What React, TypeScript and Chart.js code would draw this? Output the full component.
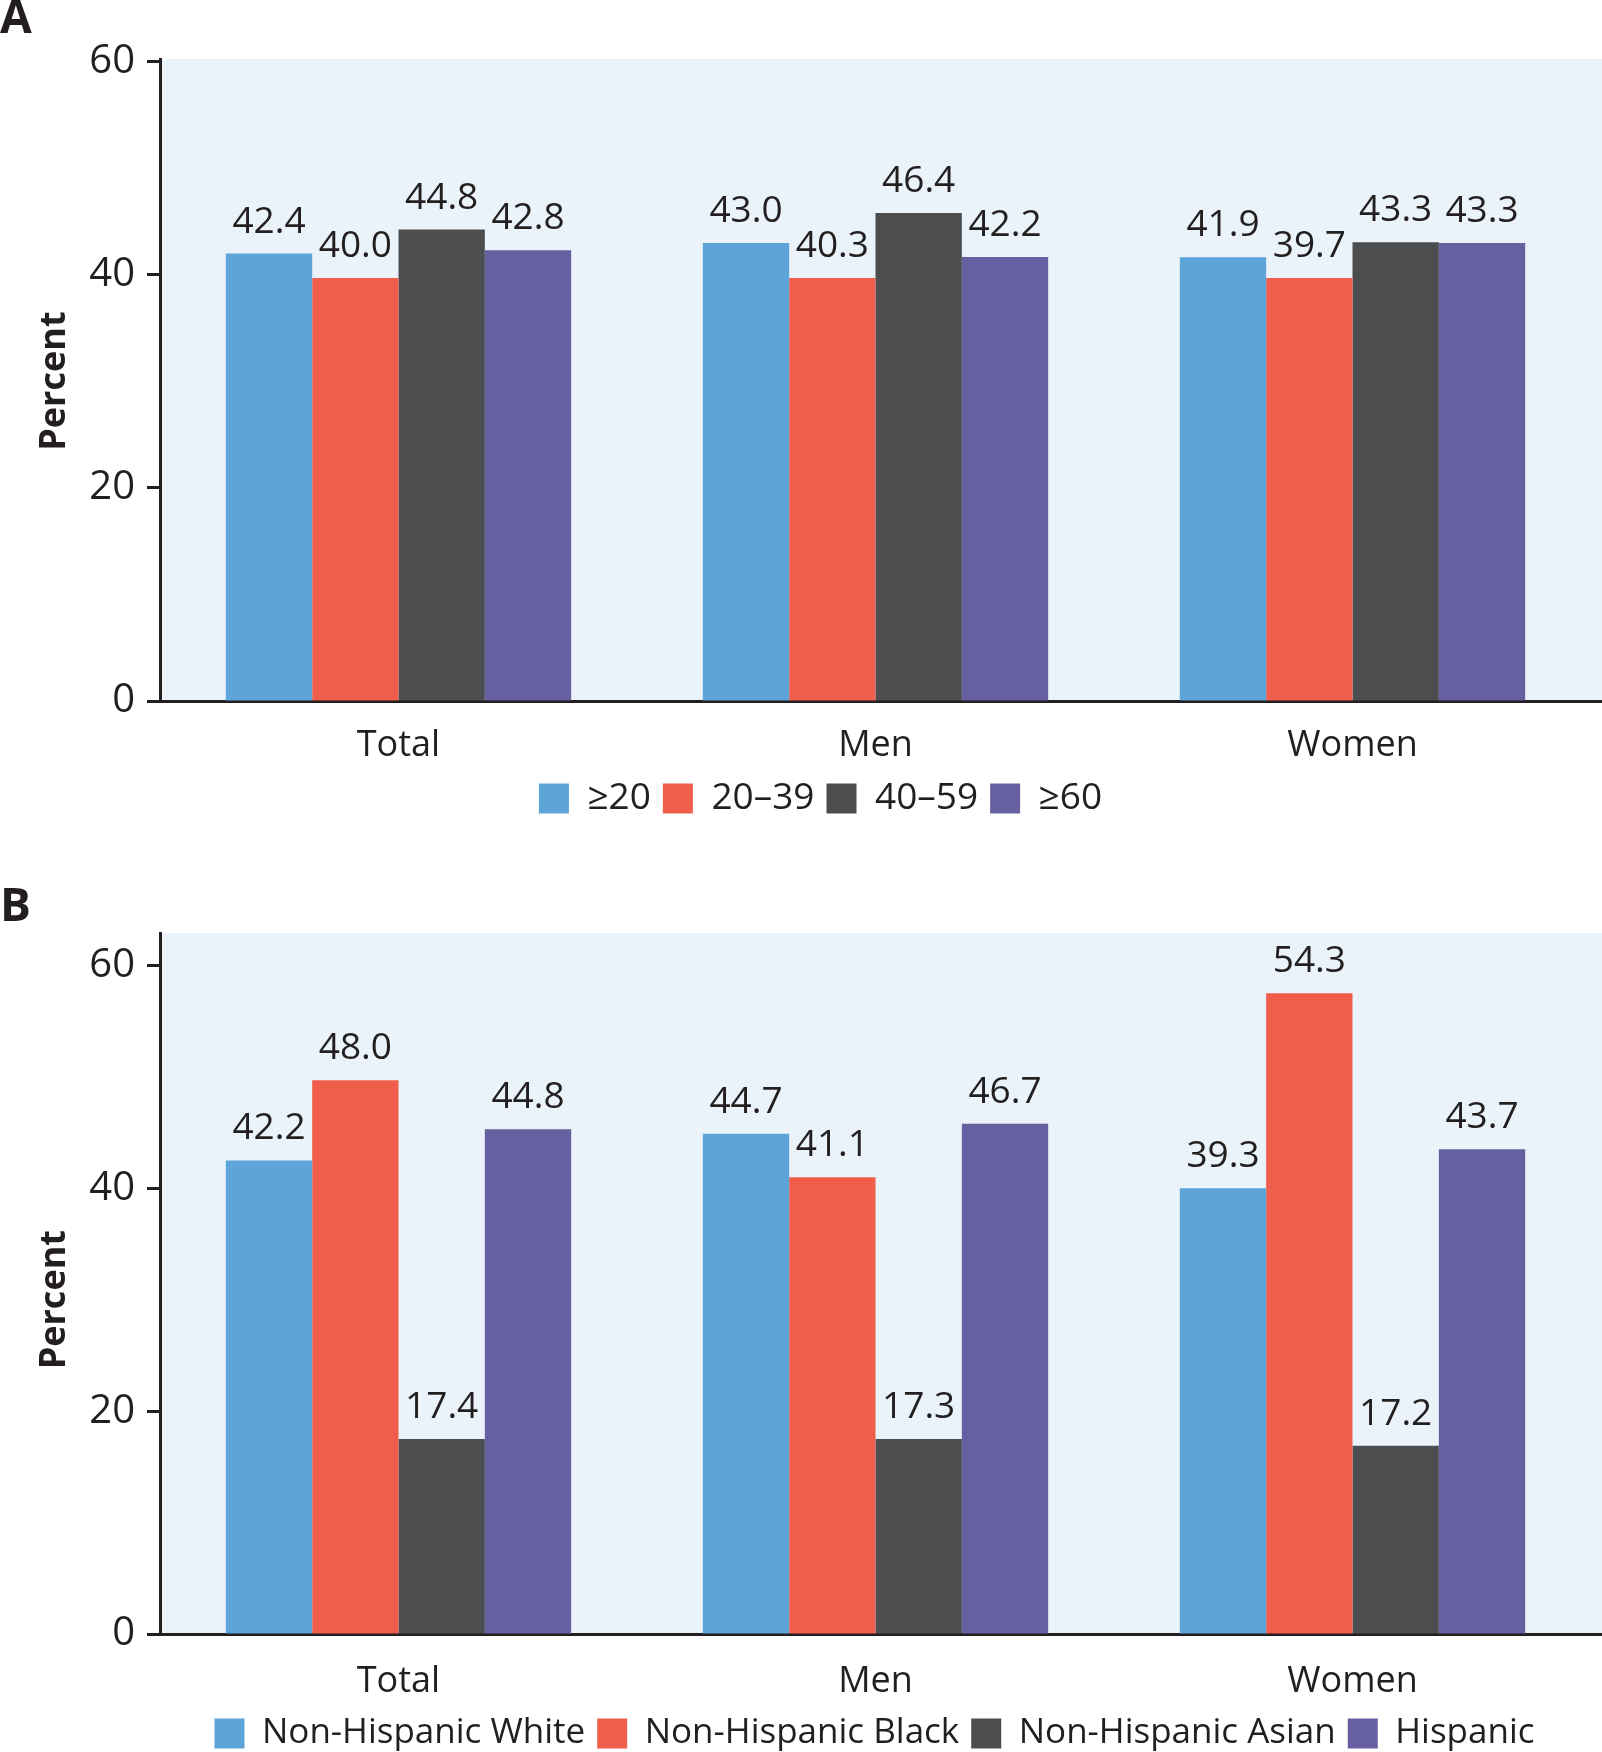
import React, { useEffect, useRef } from 'react';
import { Chart, registerables } from 'chart.js';

Chart.register(...registerables);

// ---------- data ----------
const CATEGORIES = ['Total', 'Men', 'Women'];
const Y_TICKS = [0, 20, 40, 60];
const Y_TITLE = 'Percent';

// Panel A: age groups (bar heights as drawn, labels as printed)
const AGE_GROUPS = ['≥20', '20\u201339', '40\u201359', '≥60'];
const AGE_GE20 = [41.96, 42.96, 41.61];
const AGE_20_39 = [39.67, 39.67, 39.67];
const AGE_40_59 = [44.21, 45.77, 43.02];
const AGE_GE60 = [42.27, 41.64, 42.96];
const AGE_GE20_LABELS = ['42.4', '43.0', '41.9'];
const AGE_20_39_LABELS = ['40.0', '40.3', '39.7'];
const AGE_40_59_LABELS = ['44.8', '46.4', '43.3'];
const AGE_GE60_LABELS = ['42.8', '42.2', '43.3'];

// Panel B: race / ethnicity
const RACE_GROUPS = ['Non-Hispanic White', 'Non-Hispanic Black', 'Non-Hispanic Asian', 'Hispanic'];
const NH_WHITE = [42.5, 44.9, 40.0];
const NH_BLACK = [49.7, 41.0, 57.5];
const NH_ASIAN = [17.5, 17.5, 16.9];
const HISPANIC = [45.3, 45.8, 43.5];
const NH_WHITE_LABELS = ['42.2', '44.7', '39.3'];
const NH_BLACK_LABELS = ['48.0', '41.1', '54.3'];
const NH_ASIAN_LABELS = ['17.4', '17.3', '17.2'];
const HISPANIC_LABELS = ['44.8', '46.7', '43.7'];

// ---------- styles ----------
const COLORS = ['#5DA4D9', '#EF5E4A', '#4C4D4F', '#6660A1'];
const TEXT = '#231F20';
const PLOT_BG = '#EAF2FA';
const FONT = "'Open Sans', 'DejaVu Sans', sans-serif";

Chart.defaults.font.family = FONT;
Chart.defaults.color = TEXT;

const plotFrame = {
  id: 'plotFrame',
  beforeDraw(chart: any) {
    const { ctx, chartArea } = chart;
    ctx.save();
    ctx.fillStyle = PLOT_BG;
    ctx.fillRect(chartArea.left, chartArea.top, chart.width - chartArea.left, chartArea.bottom - chartArea.top);
    ctx.restore();
  },
  afterDraw(chart: any) {
    const { ctx, chartArea } = chart;
    const xs = chart.scales.x;
    const w = 3;
    const y = Math.round(xs.top - w / 2) + w / 2;
    ctx.save();
    ctx.strokeStyle = TEXT;
    ctx.lineWidth = w;
    ctx.beginPath();
    ctx.moveTo(chartArea.right - 2, y);
    ctx.lineTo(chart.width, y);
    ctx.stroke();
    ctx.restore();
  },
};

const valueLabels = {
  id: 'valueLabels',
  afterDatasetsDraw(chart: any, _args: any, opts: any) {
    const { ctx } = chart;
    ctx.save();
    ctx.font = `${opts.size}px ${FONT}`;
    ctx.fillStyle = TEXT;
    ctx.textAlign = 'center';
    ctx.textBaseline = 'alphabetic';
    chart.data.datasets.forEach((ds: any, i: number) => {
      const meta = chart.getDatasetMeta(i);
      meta.data.forEach((bar: any, j: number) => {
        ctx.fillText(ds.valueLabels[j], bar.x, bar.y - opts.gap);
      });
    });
    ctx.restore();
  },
};

const yTitle = {
  id: 'yTitle',
  afterDraw(chart: any, _args: any, opts: any) {
    const { ctx } = chart;
    const ys = chart.scales.y;
    const cy = (ys.getPixelForValue(opts.from) + ys.getPixelForValue(opts.to)) / 2;
    ctx.save();
    ctx.translate(ys.left + opts.x, cy);
    ctx.rotate(-Math.PI / 2);
    ctx.font = `bold ${opts.size}px ${FONT}`;
    ctx.fillStyle = TEXT;
    ctx.textAlign = 'center';
    ctx.textBaseline = 'middle';
    ctx.fillText(opts.text, 0, 0);
    ctx.restore();
  },
};

const legendShift = {
  id: 'legendShift',
  afterLayout(chart: any, _args: any, opts: any) {
    const l = chart.legend;
    if (l && opts.dx) {
      l.left += opts.dx;
      l.right += opts.dx;
    }
  },
};

type PanelProps = {
  letter: string;
  top: number;
  height: number;
  groups: string[];
  series: number[][];
  labels: string[][];
  yMax: number;
  titlePadBottom: number;
  tickPad: number;
  xAxisHeight: number;
  legendSize: number;
  legendDx: number;
};

function Panel(p: PanelProps) {
  const ref = useRef<HTMLCanvasElement | null>(null);
  useEffect(() => {
    if (!ref.current) return;
    const chart = new Chart(ref.current, {
      type: 'bar',
      data: {
        labels: CATEGORIES,
        datasets: p.groups.map((g, i) => ({
          label: g,
          data: p.series[i],
          valueLabels: p.labels[i],
          backgroundColor: COLORS[i],
          borderWidth: 0,
          barPercentage: 1,
          categoryPercentage: 0.724,
        })) as any,
      },
      options: {
        responsive: false,
        animation: false,
        devicePixelRatio: 1,
        events: [],
        layout: { padding: { left: 0, right: 11, top: 0, bottom: 0 } },
        scales: {
          x: {
            grid: { display: false, drawTicks: false },
            border: { display: true, color: TEXT, width: 3 },
            ticks: { font: { size: 36 }, color: TEXT, padding: p.tickPad, maxRotation: 0, autoSkip: false },
            afterFit: (s: any) => { s.height = p.xAxisHeight; },
          },
          y: {
            min: 0,
            max: p.yMax,
            afterBuildTicks: (s: any) => { s.ticks = Y_TICKS.map((v) => ({ value: v })); },
            grid: {
              display: true,
              drawOnChartArea: false,
              drawTicks: true,
              tickLength: 13,
              tickWidth: 3,
              tickColor: TEXT,
            },
            border: { display: true, color: TEXT, width: 3 },
            ticks: { font: { size: 40 }, color: TEXT, padding: 12 },
            title: { display: false },
            afterFit: (s: any) => { s.width = 160; },
          },
        },
        plugins: {
          tooltip: { enabled: false },
          title: {
            display: true,
            text: p.letter,
            align: 'start',
            color: TEXT,
            font: { size: 46, weight: 'bold', lineHeight: 0.85 },
            padding: { top: 0, bottom: p.titlePadBottom },
          },
          legend: {
            display: true,
            position: 'bottom',
            labels: {
              font: { size: p.legendSize },
              color: TEXT,
              boxWidth: 30,
              boxHeight: 30,
              padding: 12,
            },
          },
          valueLabels: { size: 37, gap: 21 },
          yTitle: { text: Y_TITLE, x: 55, size: 36, from: 0, to: 60 },
          legendShift: { dx: p.legendDx },
        } as any,
      },
      plugins: [plotFrame, valueLabels, yTitle, legendShift],
    });
    return () => chart.destroy();
  }, []);
  return (
    <canvas
      ref={ref}
      width={1602}
      height={p.height}
      style={{ position: 'absolute', left: 0, top: p.top, width: 1602, height: p.height, display: 'block' }}
    />
  );
}

export default function App() {
  return (
    <div style={{ position: 'absolute', left: 0, top: 0, width: 1602, height: 1752, overflow: 'hidden', background: '#fff' }}>
      <Panel
        letter="A"
        top={0}
        height={827}
        groups={AGE_GROUPS}
        series={[AGE_GE20, AGE_20_39, AGE_40_59, AGE_GE60]}
        labels={[AGE_GE20_LABELS, AGE_20_39_LABELS, AGE_40_59_LABELS, AGE_GE60_LABELS]}
        yMax={60.2}
        titlePadBottom={20}
        tickPad={23}
        xAxisHeight={67}
        legendSize={37}
        legendDx={25}
      />
      <Panel
        letter="B"
        top={888}
        height={873}
        groups={RACE_GROUPS}
        series={[NH_WHITE, NH_BLACK, NH_ASIAN, HISPANIC]}
        labels={[NH_WHITE_LABELS, NH_BLACK_LABELS, NH_ASIAN_LABELS, HISPANIC_LABELS]}
        yMax={62.9}
        titlePadBottom={6}
        tickPad={26}
        xAxisHeight={70}
        legendSize={35}
        legendDx={79}
      />
    </div>
  );
}
